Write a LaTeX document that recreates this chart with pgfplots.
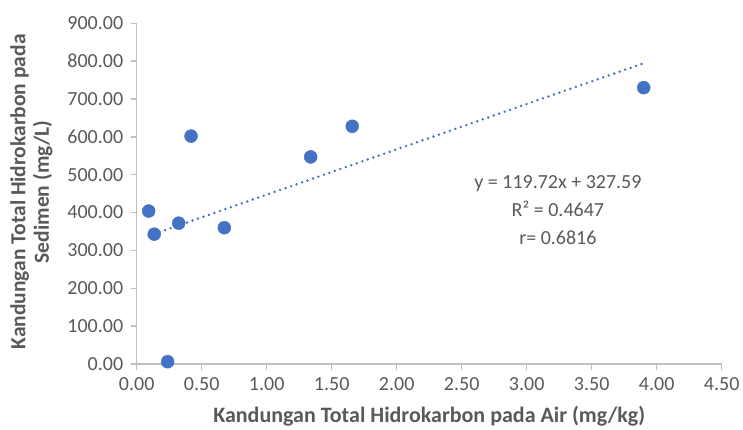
\documentclass[border=0pt]{standalone}
\usepackage{fontspec}
\setmainfont{Carlito}
\usepackage{pgfplots}
\pgfplotsset{compat=1.18}
\definecolor{ptblue}{HTML}{4472C4}
\definecolor{axgray}{HTML}{BFBFBF}
\definecolor{txtgray}{HTML}{595959}
\begin{document}
\begin{tikzpicture}
\begin{axis}[
  scale only axis, width=585pt, height=340.7pt,
  xmin=0, xmax=4.5, ymin=0, ymax=900,
  xtick={0,0.5,1,1.5,2,2.5,3,3.5,4,4.5},
  ytick={0,100,200,300,400,500,600,700,800,900},
  axis x line*=bottom, axis y line*=left,
  axis line style={axgray, line width=1.5pt},
  tick style={axgray, line width=1.5pt},
  tick align=outside, major tick length=6pt,
  /pgf/number format/assume math mode=true,
  /pgf/number format/.cd, fixed, fixed zerofill, precision=2, 1000 sep={},
  /pgfplots/.cd,
  ticklabel style={font=\fontsize{20}{24}\selectfont, text=txtgray},
  xticklabel style={yshift=-4pt},
  yticklabel style={xshift=-4pt},
  xlabel={Kandungan Total Hidrokarbon pada Air (mg/kg)},
  ylabel={Kandungan Total Hidrokarbon pada\\Sedimen (mg/L)},
  every axis x label/.style={at={(axis description cs:0.5,-0.152)}, anchor=center, font=\bfseries\fontsize{22}{24}\selectfont, text=txtgray},
  every axis y label/.style={at={(axis description cs:-0.18,0.505)}, rotate=90, anchor=center, align=center, font=\bfseries\fontsize{21.5}{23.5}\selectfont, text=txtgray},
  clip=false,
]
\addplot[only marks, mark=*, mark size=6.5pt, mark options={fill=ptblue, draw=ptblue}] table {
x y
0.092 404
0.135 343
0.238 6
0.323 372
0.418 602
0.674 360
1.338 547
1.658 628
3.900 730
};
\addplot[ptblue, line width=2.7pt, line cap=round, dash pattern=on 0pt off 5.8pt] coordinates {(0.092,338.60) (3.90,794.50)};
\node[align=center, font=\fontsize{20}{28}\selectfont, text=txtgray] at (axis cs:3.24,407) {y = 119.72x + 327.59\\R² = 0.4647\\r= 0.6816};
\end{axis}
\pgfresetboundingbox
\useasboundingbox (-136.7pt,-66pt) rectangle (606.3pt,364pt);
\end{tikzpicture}
\end{document}
